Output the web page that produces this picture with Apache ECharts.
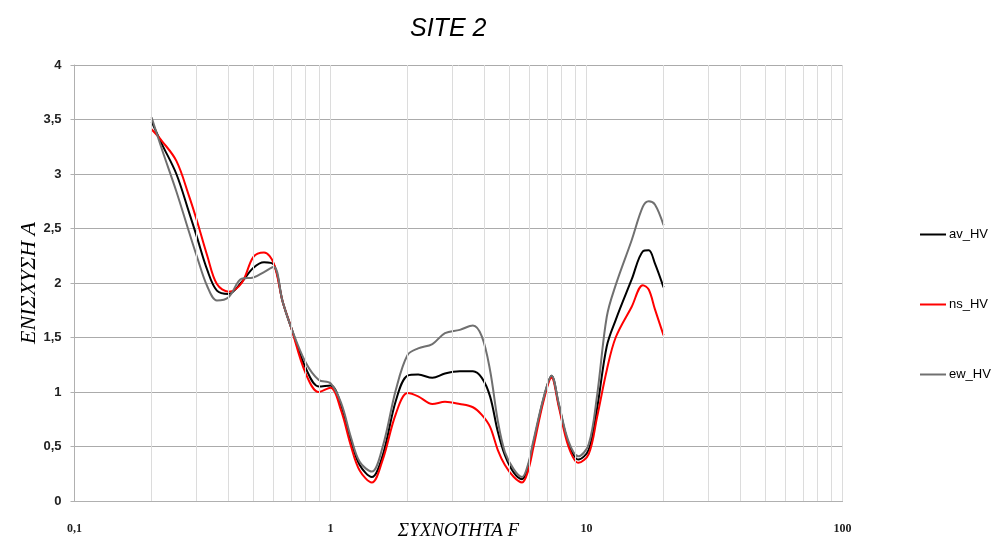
<!DOCTYPE html>
<html>
<head>
<meta charset="utf-8">
<script src="https://cdn.jsdelivr.net/npm/echarts@6/dist/echarts.min.js"></script>
<style>
html,body{margin:0;padding:0;background:#fff;}
#chart{width:999px;height:541px;}
</style>
</head>
<body>
<div id="chart"></div>
<script>
// Frequencies (Hz)
const freq = [0.2,0.22,0.25,0.28,0.3,0.33,0.36,0.4,0.45,0.5,0.55,0.6,0.65,0.7,0.8,0.9,1.0,1.1,1.2,1.3,1.45,1.6,1.8,2.0,2.2,2.5,2.8,3.2,3.6,3.9,4.2,4.5,4.8,5.2,5.6,5.9,6.2,6.8,7.3,7.8,8.5,9.3,10.2,11,12,13,15,16.6,17.5,18.5,20];
const avHV = [3.48,3.27,3.00,2.65,2.43,2.12,1.93,1.90,2.01,2.14,2.19,2.17,1.83,1.60,1.22,1.05,1.06,0.88,0.56,0.33,0.22,0.42,0.92,1.15,1.16,1.13,1.17,1.19,1.19,1.13,0.96,0.64,0.42,0.26,0.20,0.31,0.53,0.94,1.15,0.88,0.53,0.38,0.47,0.85,1.42,1.66,2.03,2.29,2.30,2.18,1.96];
const nsHV = [3.41,3.30,3.12,2.80,2.58,2.25,1.99,1.92,2.00,2.24,2.28,2.18,1.83,1.60,1.17,1.00,1.04,0.83,0.51,0.28,0.17,0.38,0.80,0.99,0.96,0.89,0.91,0.89,0.86,0.79,0.68,0.47,0.33,0.22,0.17,0.27,0.49,0.92,1.13,0.86,0.50,0.35,0.43,0.77,1.20,1.50,1.78,1.98,1.94,1.76,1.52];
const ewHV = [3.52,3.22,2.84,2.47,2.25,1.97,1.84,1.87,2.04,2.05,2.10,2.15,1.83,1.60,1.27,1.11,1.08,0.90,0.59,0.36,0.27,0.50,1.02,1.34,1.40,1.44,1.54,1.57,1.61,1.51,1.20,0.74,0.45,0.29,0.22,0.33,0.55,0.95,1.15,0.89,0.55,0.41,0.52,0.97,1.69,1.98,2.39,2.70,2.75,2.72,2.53];
const minorLines = [0.2,0.3,0.4,0.5,0.6,0.7,0.8,0.9,2,3,4,5,6,7,8,9,20,30,40,50,60,70,80,90];
const seriesNames = ['av_HV','ns_HV','ew_HV'];

const pair = (arr) => freq.map((f,i)=>[f, arr[i]]);

const chart = echarts.init(document.getElementById('chart'));
const lineSeries = (name, arr, color) => ({
  name, type:'line', data: pair(arr), smooth:0.35, showSymbol:false, symbol:'none',
  lineStyle:{color, width:2}, itemStyle:{color}, z:3
});
chart.setOption({
  animation:false,
  backgroundColor:'#fff',
  title:{
    text:'SITE 2', left:405, top:12,
    textStyle:{fontFamily:'Liberation Sans', fontStyle:'italic', fontWeight:'normal', fontSize:25, color:'#000'}
  },
  legend:{
    orient:'vertical', left:915, top:223, itemGap:57, itemWidth:26, itemHeight:14,
    icon:'path://M0,6 L26,6 L26,8 L0,8 Z',
    data:seriesNames,
    textStyle:{fontFamily:'Liberation Sans', fontSize:13, color:'#000', padding:[0,0,0,-2]}
  },
  grid:{left:74.5, right:156.5, top:65, bottom:40, containLabel:false, outerBoundsMode:'none'},
  xAxis:{
    type:'log', logBase:10, min:0.1, max:100,
    name:'ΣΥΧΝΟΤΗΤΑ F', nameLocation:'middle', nameGap:20, nameMoveOverlap:false,
    nameTextStyle:{fontFamily:'Liberation Serif', fontStyle:'italic', fontSize:19, color:'#000'},
    axisLine:{show:true, lineStyle:{color:'#b0b0b0', width:1}},
    axisTick:{show:false},
    axisLabel:{margin:22, fontFamily:'Liberation Serif', fontWeight:'bold', fontSize:12, color:'#222',
      formatter:(v)=>String(v).replace('.',',')},
    splitLine:{show:true, lineStyle:{color:'#dcdcdc', width:1}}
  },
  yAxis:{
    type:'value', min:0, max:4, interval:0.5,
    name:'ΕΝΙΣΧΥΣΗ Α', nameLocation:'middle', nameGap:34, nameRotate:90, nameMoveOverlap:false,
    nameTextStyle:{fontFamily:'Liberation Serif', fontStyle:'italic', fontSize:22, color:'#000'},
    axisLine:{show:true, lineStyle:{color:'#b0b0b0', width:1}},
    axisTick:{show:true, length:4, lineStyle:{color:'#b0b0b0'}},
    axisLabel:{margin:13, fontFamily:'Liberation Sans', fontWeight:'bold', fontSize:13, color:'#222',
      formatter:(v)=>String(v).replace('.',',')},
    splitLine:{show:true, lineStyle:{color:'#ababab', width:1}}
  },
  series:[
    {
      name:'minor', type:'line', data:[], z:1, silent:true,
      markLine:{
        silent:true, symbol:['none','none'], label:{show:false},
        lineStyle:{color:'#dcdcdc', width:1, type:'solid'},
        emphasis:{disabled:true},
        data: minorLines.map(v=>({xAxis:v}))
      }
    },
    lineSeries('av_HV', avHV, '#000000'),
    lineSeries('ns_HV', nsHV, '#ff0000'),
    lineSeries('ew_HV', ewHV, '#707070')
  ]
});
</script>
</body>
</html>
